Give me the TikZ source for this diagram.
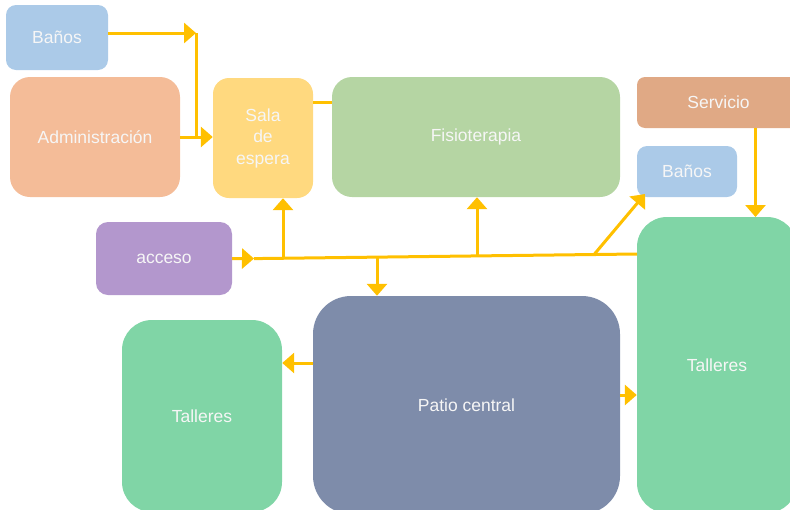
\documentclass[tikz,border=0pt]{standalone}
\usepackage{fontspec}
\setmainfont{Liberation Sans}
\usetikzlibrary{arrows.meta}
\definecolor{cBanos}{HTML}{ABCAE8}
\definecolor{cAdmin}{HTML}{F4BC98}
\definecolor{cSala}{HTML}{FFD97F}
\definecolor{cFisio}{HTML}{B5D5A3}
\definecolor{cServ}{HTML}{E0A985}
\definecolor{cAcc}{HTML}{B397CD}
\definecolor{cPatio}{HTML}{7E8CAA}
\definecolor{cTall}{HTML}{80D5A6}
\definecolor{cArrow}{HTML}{FFC000}
\definecolor{cText}{HTML}{F6F6F6}
\tikzset{
  box/.style={rectangle, draw=none, inner sep=0pt, text=cText, align=center,
    font=\fontsize{17.5}{21.5}\selectfont},
  conn/.style={draw=cArrow, line width=3pt},
  tip/.style={-{Triangle[length=12pt,width=20pt]}}
}
\begin{document}
\begin{tikzpicture}[x=1pt,y=-1pt]
\path[use as bounding box] (0,0) rectangle (790,509);
% boxes
\node[box, fill=cBanos, rounded corners=10pt, minimum width=102pt, minimum height=65pt] (banosA) at (57,37.5) {Baños};
\node[box, fill=cAdmin, rounded corners=20pt, minimum width=170pt, minimum height=120pt] (admin) at (95,137) {Administración};
\node[box, fill=cSala, rounded corners=16pt, minimum width=100pt, minimum height=120pt] (sala) at (263,138) {Sala\\de\\espera};
\node[box, fill=cFisio, rounded corners=20pt, minimum width=288pt, minimum height=120pt] (fisio) at (476,137) {Fisioterapia};
\node[box, fill=cServ, rounded corners=8pt, minimum width=163pt, minimum height=51pt, text width=113pt, align=center] (serv) at (718.5,102.5) {Servicio};
\node[box, fill=cBanos, rounded corners=10pt, minimum width=100pt, minimum height=51pt] (banosB) at (687,171.5) {Baños};
\node[box, fill=cAcc, rounded corners=12pt, minimum width=136pt, minimum height=73pt] (acceso) at (164,258.5) {acceso};
\node[box, fill=cPatio, rounded corners=38pt, minimum width=307pt, minimum height=218pt] (patio) at (466.5,405) {Patio central};
\node[box, fill=cTall, rounded corners=30pt, minimum width=160pt, minimum height=192pt] (tallL) at (202,416) {Talleres};
\node[box, fill=cTall, rounded corners=30pt, minimum width=160pt, minimum height=296pt, text width=100pt] (tallR) at (717,365) {Talleres};
% junction coordinates
\coordinate (c1) at (196,33);
\coordinate (c2) at (196,137);
\coordinate (a0) at (254,258.6);
\coordinate (aEnd) at (637,254);
\coordinate (jS) at (283,258.3);
\coordinate (jP) at (377,257.2);
\coordinate (jF) at (477,256);
\coordinate (jB) at (594,254.6);
% connectors
\draw[conn, tip] (banosA.east |- c1) -- (c1);
\draw[conn] (c1) -- (c2);
\draw[conn, tip] (admin.east) -- (sala.west |- admin.east);
\draw[conn] (sala.east |- 0,102) -- (fisio.west |- 0,102);
\draw[conn, tip] (acceso.east) -- (a0);
\draw[conn] (a0) -- (aEnd);
\draw[conn, tip] (jS) -- (jS |- sala.south);
\draw[conn, tip] (jF) -- (jF |- fisio.south);
\draw[conn, tip] (jP) -- (jP |- patio.north);
\draw[conn, tip] (jB) -- (645,194);
\draw[conn, tip] (755.5,128) -- (755.5,217);
\draw[conn, tip] (patio.west |- 0,363) -- (tallL.east |- 0,363);
\draw[conn, tip] (patio.east |- 0,395) -- (tallR.west |- 0,395);
\end{tikzpicture}
\end{document}
